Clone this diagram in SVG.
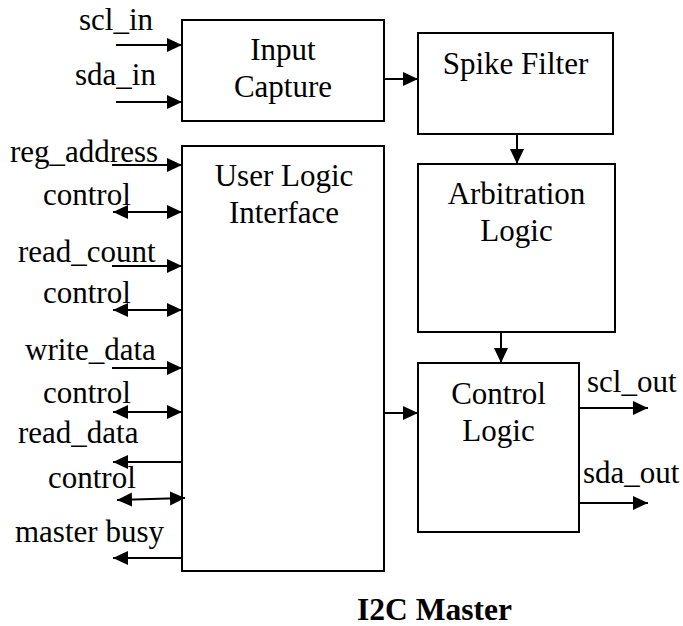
<svg xmlns="http://www.w3.org/2000/svg" width="683" height="626" viewBox="0 0 683 626">
<style>
.box{fill:#fff;stroke:#000;stroke-width:2}
text{font-family:'Liberation Serif','Times New Roman','DejaVu Serif',serif;font-size:31px;fill:#000}
.c{text-anchor:middle}
.b{font-weight:bold;font-size:31.5px}
.w{stroke:#000;stroke-width:2;fill:none}
</style>
<defs>
<marker id="ah" viewBox="0 0 15 15" refX="15" refY="7.5" markerWidth="15" markerHeight="15" markerUnits="userSpaceOnUse" orient="auto-start-reverse">
<path d="M0,0.5 L15,7.5 L0,14.5 z" fill="#000"/>
</marker>
</defs>
<rect width="683" height="626" fill="#fff"/>
<g id="input_capture">
<rect class="box" x="182" y="20" width="202" height="101"/>
<text class="c" x="283" y="60">Input</text>
<text class="c" x="283" y="97">Capture</text>
</g>
<g id="spike_filter">
<rect class="box" x="418" y="33" width="195" height="101"/>
<text class="c" x="515.5" y="74">Spike Filter</text>
</g>
<g id="arbitration_logic">
<rect class="box" x="418" y="164" width="197" height="168"/>
<text class="c" x="516.5" y="204">Arbitration</text>
<text class="c" x="516.5" y="241">Logic</text>
</g>
<g id="user_logic_interface">
<rect class="box" x="182" y="146" width="202" height="425"/>
<text class="c" x="284" y="186">User Logic</text>
<text class="c" x="284" y="223">Interface</text>
</g>
<g id="control_logic">
<rect class="box" x="418" y="363" width="161" height="169"/>
<text class="c" x="498.5" y="404">Control</text>
<text class="c" x="498.5" y="441">Logic</text>
</g>
<g id="connectors">
<line class="w" x1="116" y1="45" x2="182" y2="45" marker-end="url(#ah)"/>
<line class="w" x1="116" y1="102" x2="182" y2="102" marker-end="url(#ah)"/>
<line class="w" x1="384" y1="79" x2="418" y2="79" marker-end="url(#ah)"/>
<line class="w" x1="517" y1="134" x2="517" y2="164" marker-end="url(#ah)"/>
<line class="w" x1="501" y1="332" x2="501" y2="363" marker-end="url(#ah)"/>
<line class="w" x1="384" y1="413" x2="418" y2="413" marker-end="url(#ah)"/>
<line class="w" x1="579" y1="408" x2="648" y2="408" marker-end="url(#ah)"/>
<line class="w" x1="579" y1="503" x2="648" y2="503" marker-end="url(#ah)"/>
<line class="w" x1="112" y1="165" x2="182" y2="165" marker-end="url(#ah)"/>
<line class="w" x1="113" y1="212" x2="182" y2="212" marker-start="url(#ah)" marker-end="url(#ah)"/>
<line class="w" x1="112" y1="266" x2="182" y2="266" marker-end="url(#ah)"/>
<line class="w" x1="113" y1="310" x2="182" y2="310" marker-start="url(#ah)" marker-end="url(#ah)"/>
<line class="w" x1="112" y1="368" x2="182" y2="368" marker-end="url(#ah)"/>
<line class="w" x1="113" y1="412" x2="182" y2="412" marker-start="url(#ah)" marker-end="url(#ah)"/>
<line class="w" x1="182" y1="462" x2="113" y2="462" marker-end="url(#ah)"/>
<line class="w" x1="117" y1="500" x2="185" y2="498" marker-start="url(#ah)" marker-end="url(#ah)"/>
<line class="w" x1="182" y1="558" x2="113" y2="558" marker-end="url(#ah)"/>
</g>
<g id="labels">
<text x="79" y="30">scl_in</text>
<text x="75" y="85">sda_in</text>
<text x="10" y="162">reg_address</text>
<text x="43" y="205">control</text>
<text x="18" y="262">read_count</text>
<text x="43" y="303">control</text>
<text x="25" y="360">write_data</text>
<text x="43" y="403">control</text>
<text x="18" y="443">read_data</text>
<text x="48" y="488">control</text>
<text x="15" y="542">master busy</text>
<text x="587" y="392">scl_out</text>
<text x="583" y="483">sda_out</text>
<text class="c b" x="434.5" y="620">I2C Master</text>
</g>
</svg>
